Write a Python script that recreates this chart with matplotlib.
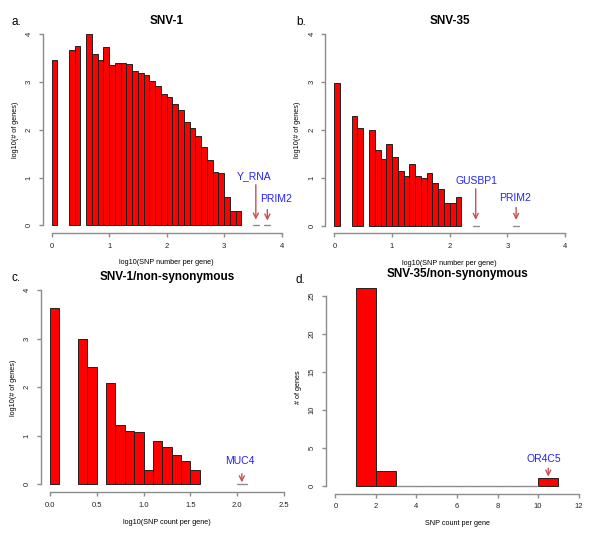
import numpy as np
import matplotlib
matplotlib.use("Agg")
import matplotlib.pyplot as plt

plt.rcParams['font.family'] = ['Liberation Sans', 'DejaVu Sans']

nan = np.nan

# log10(# of genes) per 0.1-wide bin of log10(SNP number per gene), starting at 0
snv1_vals = [3.46, nan, nan, 3.67, 3.75, nan, 4.00, 3.59, 3.46, 3.73,
             3.36, 3.40, 3.40, 3.38, 3.23, 3.20, 3.14, 3.03, 2.91, 2.76,
             2.68, 2.55, 2.42, 2.16, 2.04, 1.88, 1.64, 1.36, 1.12, 1.09,
             0.60, 0.30, 0.30, nan, nan, 0.0, nan, 0.0]
snv35_vals = [2.98, nan, nan, 2.29, 2.04, nan, 2.00, 1.58, 1.39, 1.71,
              1.44, 1.14, 1.04, 1.28, 1.04, 0.99, 1.11, 0.90, 0.77, 0.48,
              0.48, 0.60, nan, nan, 0.0, nan, nan, nan, nan, nan, nan, 0.0]
snv1_ns_vals = [3.64, nan, nan, 3.00, 2.41, nan, 2.09, 1.23, 1.11, 1.07,
                0.30, 0.90, 0.78, 0.60, 0.48, 0.30, nan, nan, nan, nan, 0.0]
# raw # of genes per 1-wide bin of SNP count, starting at 1
snv35_ns_counts = [26, 2, 0, 0, 0, 0, 0, 0, 0, 1]

log_bin_width = 0.1
count_bin_start = 1
count_bin_width = 1

# gene labels: (name, arrow x, arrow top, arrow bottom, text x, text y)
snv1_genes = [("Y_RNA", 3.55, 0.85, 0.12, 3.52, 1.04),
              ("PRIM2", 3.75, 0.33, 0.10, 3.91, 0.56)]
snv35_genes = [("GUSBP1", 2.45, 0.77, 0.12, 2.47, 0.94),
               ("PRIM2", 3.15, 0.38, 0.12, 3.13, 0.58)]
snv1_ns_genes = [("MUC4", 2.05, 0.22, 0.04, 2.03, 0.49)]
snv35_ns_genes = [("OR4C5", 10.5, 2.3, 1.2, 10.3, 3.5)]

W, H = 600, 537
fig = plt.figure(figsize=(6.0, 5.37), dpi=100)

BAR_RED = "#ff0000"
EDGE = "#222222"
AXIS_GREY = "#8c8c8c"
ARROW_COL = "#c85050"


def make_axes(left, top, width, height):
    # pixel box -> figure fraction
    return fig.add_axes([left / W, 1 - (top + height) / H, width / W, height / H])


def r_style(ax, xticks, yticks, xticklabels=None):
    for s in ["top", "right"]:
        ax.spines[s].set_visible(False)
    ax.spines["left"].set_bounds(yticks[0], yticks[-1])
    ax.spines["bottom"].set_bounds(xticks[0], xticks[-1])
    for s in ["left", "bottom"]:
        ax.spines[s].set_color(AXIS_GREY)
        ax.spines[s].set_linewidth(1.0)
    ax.set_xticks(xticks)
    if xticklabels is not None:
        ax.set_xticklabels(xticklabels)
    ax.set_yticks(yticks)
    ax.tick_params(axis="both", length=3, width=1.0, color=AXIS_GREY,
                   labelsize=5.5, pad=4, labelcolor="#222222")
    for lab in ax.get_yticklabels():
        lab.set_rotation(90)
        lab.set_va("center")


def draw_log_hist(ax, vals):
    vals = np.array(vals, dtype=float)
    x = np.arange(len(vals)) * log_bin_width
    ok = ~np.isnan(vals)
    ax.bar(x[ok], vals[ok], width=log_bin_width, align="edge",
           color=BAR_RED, edgecolor=EDGE, linewidth=0.7)
    zero = ok & (vals == 0)
    ax.bar(x[zero], vals[zero], width=log_bin_width, align="edge",
           color=BAR_RED, edgecolor=AXIS_GREY, linewidth=1.0)


def label_genes(ax, genes):
    for name, ax_x, y0, y1, tx, ty in genes:
        ax.annotate("", xy=(ax_x, y1), xytext=(ax_x, y0),
                    arrowprops=dict(arrowstyle="->", color=ARROW_COL, lw=1.0,
                                    shrinkA=0, shrinkB=0, mutation_scale=9))
        ax.text(tx, ty, name, color="#2020ff", fontsize=7.5,
                ha="center", va="center")


def labels(ax, title, xlabel, ylabel, pad=1):
    ax.set_title(title, fontsize=8.5, fontweight="bold", pad=pad)
    ax.set_xlabel(xlabel, fontsize=5.2, labelpad=7)
    ax.set_ylabel(ylabel, fontsize=5.2, labelpad=5)


# a. SNV-1
ax = make_axes(42.5, 26.7, 248.4, 206.3)
draw_log_hist(ax, snv1_vals)
ax.set_xlim(-0.16, 4.16)
ax.set_ylim(-0.16, 4.16)
r_style(ax, [0, 1, 2, 3, 4], [0, 1, 2, 3, 4])
label_genes(ax, snv1_genes)
labels(ax, "SNV-1", "log10(SNP number per gene)", "log10(# of genes)", pad=0)
fig.text(12 / W, 1 - 22 / H, "a.", fontsize=8.5, va="center")

# b. SNV-35
ax = make_axes(325.1, 26.6, 249.3, 206.7)
draw_log_hist(ax, snv35_vals)
ax.set_xlim(-0.16, 4.16)
ax.set_ylim(-0.16, 4.16)
r_style(ax, [0, 1, 2, 3, 4], [0, 1, 2, 3, 4])
label_genes(ax, snv35_genes)
labels(ax, "SNV-35", "log10(SNP number per gene)", "log10(# of genes)", pad=-1)
fig.text(296 / W, 1 - 22 / H, "b.", fontsize=8.5, va="center")

# c. SNV-1/non-synonymous
ax = make_axes(40.6, 282.6, 252.7, 209.5)
draw_log_hist(ax, snv1_ns_vals)
ax.set_xlim(-0.1, 2.6)
ax.set_ylim(-0.16, 4.16)
r_style(ax, [0, 0.5, 1.0, 1.5, 2.0, 2.5], [0, 1, 2, 3, 4],
        ["0.0", "0.5", "1.0", "1.5", "2.0", "2.5"])
label_genes(ax, snv1_ns_genes)
labels(ax, "SNV-1/non-synonymous", "log10(SNP count per gene)", "log10(# of genes)", pad=-2)
fig.text(12 / W, 1 - 278 / H, "c.", fontsize=8.5, va="center")

# d. SNV-35/non-synonymous
ax = make_axes(325.6, 280.5, 262.8, 213.1)
counts = np.array(snv35_ns_counts)
xs = count_bin_start + np.arange(len(counts)) * count_bin_width
ax.bar(xs, counts, width=count_bin_width, align="edge",
       color=BAR_RED, edgecolor=EDGE, linewidth=0.7)
ax.bar(xs[counts == 0], counts[counts == 0], width=count_bin_width, align="edge",
       color=BAR_RED, edgecolor=AXIS_GREY, linewidth=1.0)
ax.set_xlim(-0.48, 12.48)
ax.set_ylim(-1.04, 27.04)
r_style(ax, [0, 2, 4, 6, 8, 10, 12], [0, 5, 10, 15, 20, 25])
label_genes(ax, snv35_ns_genes)
labels(ax, "SNV-35/non-synonymous", "SNP count per gene", "# of genes", pad=-4)
fig.text(296 / W, 1 - 280 / H, "d.", fontsize=8.5, va="center")

fig.savefig("out.png", dpi=100)
